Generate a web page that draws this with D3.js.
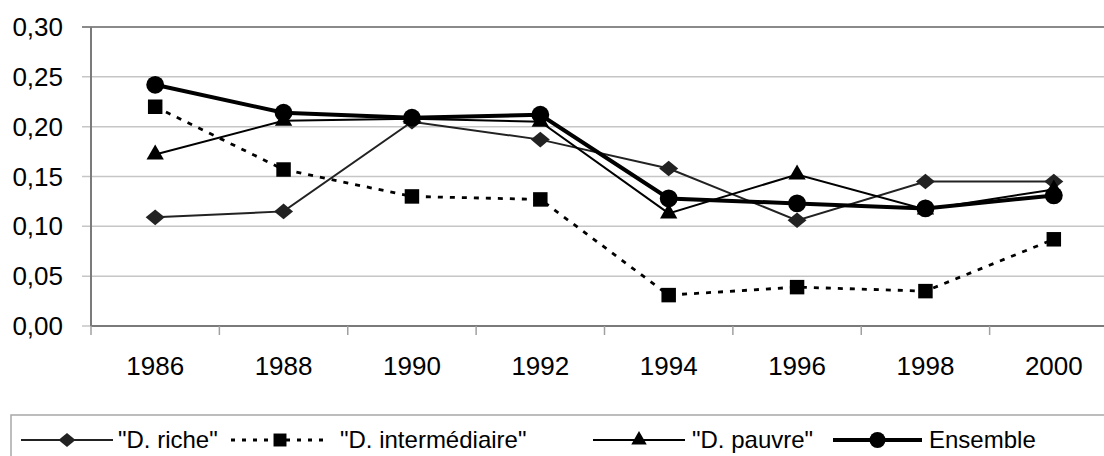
<!DOCTYPE html>
<html>
<head>
<meta charset="utf-8">
<script src="https://cdn.jsdelivr.net/npm/d3@7"></script>
<style>
  body { margin: 0; background: #fff; }
  text { font-family: "Liberation Sans", Arial, sans-serif; fill: #000; }
</style>
</head>
<body>
<svg id="chart" width="1104" height="456"></svg>
<script>
// Data
const years = ["1986", "1988", "1990", "1992", "1994", "1996", "1998", "2000"];
const riche = [0.109, 0.115, 0.205, 0.187, 0.158, 0.106, 0.145, 0.145];
const intermediaire = [0.220, 0.157, 0.130, 0.127, 0.031, 0.039, 0.035, 0.087];
const pauvre = [0.172, 0.206, 0.208, 0.205, 0.113, 0.152, 0.117, 0.137];
const ensemble = [0.242, 0.214, 0.209, 0.212, 0.128, 0.123, 0.118, 0.131];
const yTicks = [0, 0.05, 0.10, 0.15, 0.20, 0.25, 0.30];
const seriesNames = ['"D. riche"', '"D. intermédiaire"', '"D. pauvre"', 'Ensemble'];

const svg = d3.select("#chart");

// layout
const plot_left = 91, plot_right = 1118, plot_top = 27, plot_bottom = 326;

const x = d3.scaleBand().domain(years).range([plot_left, plot_right]);
const y = d3.scaleLinear().domain([0, 0.30]).range([plot_bottom, plot_top]);
const fmt = v => d3.format(".2f")(v).replace(".", ",");

// series styles
const series = [
  {name: seriesNames[0], values: riche, color: "#222", width: 2, dash: null, symbol: d3.symbolDiamond2, size: 190},
  {name: seriesNames[1], values: intermediaire, color: "#000", width: 2.8, dash: "5,7", symbol: d3.symbolSquare, size: 210},
  {name: seriesNames[2], values: pauvre, color: "#000", width: 2, dash: null, symbol: d3.symbolTriangle, size: 130},
  {name: seriesNames[3], values: ensemble, color: "#000", width: 4, dash: null, symbol: d3.symbolCircle, size: 250}
];

// gridlines
svg.append("g")
  .attr("class", "grid")
  .selectAll("line")
  .data(yTicks)
  .enter().append("line")
    .attr("x1", plot_left - 9)
    .attr("x2", plot_right)
    .attr("y1", d => y(d))
    .attr("y2", d => y(d))
    .attr("stroke", d => d === 0.30 ? "#8a8a8a" : "#c6c6c6")
    .attr("stroke-width", d => d === 0.30 ? 2 : 1.5);

// y axis labels
svg.append("g")
  .selectAll("text")
  .data(yTicks)
  .enter().append("text")
    .attr("x", 63)
    .attr("y", d => y(d))
    .attr("dy", "0.35em")
    .attr("text-anchor", "end")
    .attr("font-size", 26)
    .text(fmt);

// y axis line
svg.append("line")
  .attr("x1", plot_left).attr("x2", plot_left)
  .attr("y1", plot_top).attr("y2", plot_bottom)
  .attr("stroke", "#7a7a7a").attr("stroke-width", 2);

// x axis
const x_axis = d3.axisBottom(x).tickSize(0).tickPadding(0);
const xg = svg.append("g")
  .attr("transform", `translate(0,${plot_bottom})`)
  .call(x_axis);
xg.select(".domain").remove();
xg.selectAll("text")
  .attr("font-size", 26)
  .attr("font-family", "Liberation Sans, Arial, sans-serif")
  .attr("y", 49)
  .attr("dy", 0);

svg.append("line")
  .attr("x1", plot_left).attr("x2", plot_right)
  .attr("y1", plot_bottom).attr("y2", plot_bottom)
  .attr("stroke", "#7a7a7a").attr("stroke-width", 2);

// tick marks between categories
svg.append("g")
  .selectAll("line")
  .data(years.concat(["end"]))
  .enter().append("line")
    .attr("x1", (d, i) => i < years.length ? x(d) : plot_right)
    .attr("x2", (d, i) => i < years.length ? x(d) : plot_right)
    .attr("y1", plot_bottom)
    .attr("y2", plot_bottom + 9)
    .attr("stroke", "#a0a0a0").attr("stroke-width", 1.5);

// lines and markers
const line = d3.line()
  .x((d, i) => x(years[i]) + x.bandwidth() / 2)
  .y(d => y(d));

series.forEach(s => {
  svg.append("path")
    .datum(s.values)
    .attr("d", line)
    .attr("fill", "none")
    .attr("stroke", s.color)
    .attr("stroke-width", s.width)
    .attr("stroke-dasharray", s.dash);

  svg.append("g")
    .selectAll("path")
    .data(s.values)
    .enter().append("path")
      .attr("transform", (d, i) => `translate(${x(years[i]) + x.bandwidth() / 2},${y(d)})` + (s.symbol === d3.symbolDiamond2 ? " scale(1.1,0.9)" : ""))
      .attr("d", d3.symbol().type(s.symbol).size(s.size))
      .attr("fill", s.color);
});

// legend
const legend = svg.append("g").attr("class", "legend");
legend.append("rect")
  .attr("x", 11).attr("y", 415)
  .attr("width", 1120).attr("height", 60)
  .attr("fill", "none").attr("stroke", "#a8a8a8").attr("stroke-width", 1.5);

const legend_pos = [
  {x1: 21, x2: 113, tx: 118},
  {x1: 231, x2: 329, tx: 340},
  {x1: 593, x2: 685, tx: 692},
  {x1: 833, x2: 922, tx: 929}
];
const ly = 440;

series.forEach((s, i) => {
  const p = legend_pos[i];
  legend.append("line")
    .attr("x1", p.x1).attr("x2", p.x2)
    .attr("y1", ly).attr("y2", ly)
    .attr("stroke", s.color)
    .attr("stroke-width", s.width)
    .attr("stroke-dasharray", s.dash ? "4,7" : null);
  legend.append("path")
    .attr("transform", `translate(${(p.x1 + p.x2) / 2},${ly})` + (s.symbol === d3.symbolDiamond2 ? " scale(1.1,0.9)" : ""))
    .attr("d", d3.symbol().type(s.symbol).size(s.size * 0.8))
    .attr("fill", s.color);
  legend.append("text")
    .attr("x", p.tx)
    .attr("y", ly)
    .attr("dy", "0.35em")
    .attr("font-size", 24)
    .text(s.name);
});
</script>
</body>
</html>
